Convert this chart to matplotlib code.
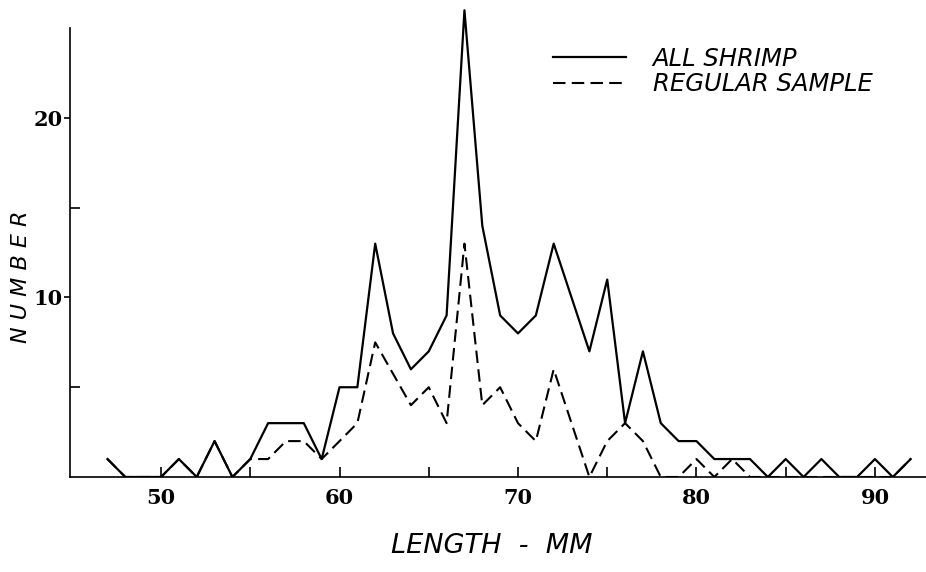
import matplotlib
matplotlib.use('Agg')
import matplotlib.pyplot as plt
import numpy as np

# Longitud (mm) y número de camarones
length_mm = list(range(47, 93))
all_shrimp = [1, 0, 0, 0, 1, 0, 2, 0, 1, 3, 3, 3, 1, 5, 5, 13, 8, 6, 7, 9,
              26, 14, 9, 8, 9, 13, 10, 7, 11, 3, 7, 3, 2, 2, 1, 1, 1, 0, 1, 0,
              1, 0, 0, 1, 0, 1]
regular_sample = [1, 0, 0, 0, 1, 0, 2, 0, 1, 1, 2, 2, 1, 2, 3, 7.5, 5.75, 4, 5, 3,
                  13, 4, 5, 3, 2, 6, 3, 0, 2, 3, 2, 0, 0, 1, 0, 1, 0, 0, 0, 0,
                  0, 0, 0, 0, 0, 1]

major_x = [50, 60, 70, 80, 90]
minor_x = [55, 65, 75, 85]
major_y = [10, 20]
minor_y = [5, 15]

fig = plt.figure(figsize=(9.26, 5.72), dpi=100)
ax = fig.add_axes([70 / 926, 1 - 477 / 572, 1 - 70 / 926, 477 / 572 - 1.3 / 572])

ax.plot(length_mm, all_shrimp, color='black', lw=1.6, label='ALL SHRIMP')
ax.plot(length_mm, regular_sample, color='black', lw=1.5, dashes=(6, 3),
        label='REGULAR SAMPLE')

ax.set_xlim(44.9, 92.86)
ax.set_ylim(0, 26.5)

for s in ['top', 'right']:
    ax.spines[s].set_visible(False)
ax.spines['left'].set_bounds(0, 25)
ax.spines['left'].set_linewidth(1.2)
ax.spines['bottom'].set_linewidth(1.2)

ax.set_xticks(major_x)
ax.set_xticks(minor_x, minor=True)
ax.set_yticks(major_y)
ax.set_yticks(minor_y, minor=True)

tick_font = dict(family='DejaVu Serif', weight='bold', size=15)
ax.set_xticklabels([str(v) for v in major_x], fontdict=tick_font)
ax.set_yticklabels([str(v) for v in major_y], fontdict=tick_font)
ax.tick_params(axis='x', which='both', direction='in', length=7, width=1.2, pad=8)
ax.tick_params(axis='y', which='major', direction='out', length=4, width=1.2, pad=1)
ax.tick_params(axis='y', which='minor', direction='in', length=7, width=1.2)

# Etiquetas de los ejes
fig.text(492 / 926, 1 - 546 / 572, 'LENGTH  -  MM', fontsize=19.5, style='italic',
         ha='center', va='center')
fig.text(21 / 926, 1 - 277 / 572, 'N U M B E R', fontsize=16, style='italic',
         ha='center', va='center', rotation=90)

leg = ax.legend(loc='upper left', bbox_to_anchor=(553 / 926, 1 - 47 / 572),
                bbox_transform=fig.transFigure, frameon=False, borderpad=0,
                borderaxespad=0, handlelength=3.0, handletextpad=1.1,
                labelspacing=0.05, prop=dict(size=17.5, style='italic'))

fig.savefig('out.png', dpi=100)
